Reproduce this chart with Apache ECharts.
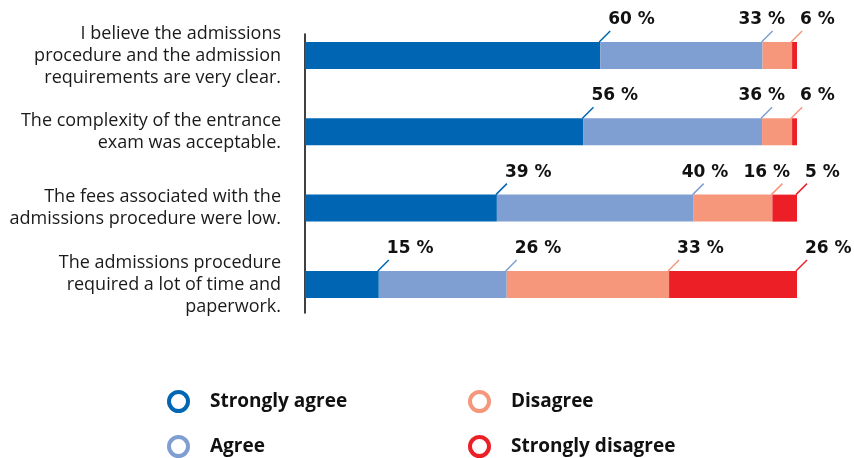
<!DOCTYPE html>
<html>
<head>
<meta charset="utf-8">
<style>
  html, body { margin: 0; padding: 0; background: #fff; }
  #chart { width: 854px; height: 458px; }
</style>
<script src="https://cdn.jsdelivr.net/npm/echarts@6/dist/echarts.min.js"></script>
</head>
<body>
<div id="chart"></div>
<script>
// statements, top to bottom
var categories = [
    'I believe the admissions\nprocedure and the admission\nrequirements are very clear.',
    'The complexity of the entrance\nexam was acceptable.',
    'The fees associated with the\nadmissions procedure were low.',
    'The admissions procedure\nrequired a lot of time and\npaperwork.'
];
var seriesNames = ['Strongly agree', 'Agree', 'Disagree', 'Strongly disagree'];
var stronglyAgree = [60, 56.6, 39, 15];
var agree = [33, 36.3, 40, 26];
var disagree = [6, 6.1, 16, 33];
var stronglyDisagree = [1, 1, 5, 26];

var colors = ['#0066b3', '#7f9fd3', '#f6967a', '#ec1f27'];
var FONT = '"Open Sans", "Noto Sans", sans-serif';
var LABEL_FONT = '"DejaVu Sans", sans-serif';
var LABEL_SIZE = 17;
var BAR_H = 27;
var GAP = 15;

var allValues = [stronglyAgree, agree, disagree, stronglyDisagree];

function labelText(v) {
    return Math.floor(v) + ' %';
}

// label points: end of each segment (cumulative), tiny segments get none
var labelData = [];
allValues.forEach(function (vals, s) {
    vals.forEach(function (v, i) {
        var cum = 0;
        for (var k = 0; k <= s; k++) cum += allValues[k][i];
        if (v >= 2) labelData.push([cum, i, v, s]);
    });
});

var ctx = document.createElement('canvas').getContext('2d');
ctx.font = 'bold ' + LABEL_SIZE + 'px ' + LABEL_FONT;
function textWidth(t) {
    return ctx.measureText(t).width;
}

// place labels of one row: start at the leader end, push left if they run into the next one
function rowLefts(row, api) {
    var items = labelData.filter(function (d) { return d[1] === row; });
    var lefts = {};
    var maxRight = Infinity;
    for (var j = items.length - 1; j >= 0; j--) {
        var d = items[j];
        var x = api.coord([d[0], d[1]])[0];
        var w = textWidth(labelText(d[2]));
        var left = x + 8;
        if (left + w > maxRight) left = maxRight - w;
        lefts[d[3]] = left;
        maxRight = left - GAP;
    }
    return lefts;
}

var myChart = echarts.init(document.getElementById('chart'));

var series = allValues.map(function (vals, s) {
    return {
        name: seriesNames[s],
        type: 'bar',
        stack: 'total',
        barWidth: BAR_H,
        itemStyle: { color: colors[s] },
        data: vals
    };
});

series.push({
    name: 'labels',
    type: 'custom',
    xAxisIndex: 0,
    yAxisIndex: 0,
    clip: false,
    z: 5,
    encode: { x: 0, y: 1 },
    data: labelData,
    renderItem: function (params, api) {
        var row = api.value(1);
        var s = api.value(3);
        var p = api.coord([api.value(0), row]);
        var top = p[1] - BAR_H / 2;
        var left = rowLefts(row, api)[s];
        return {
            type: 'group',
            children: [{
                type: 'line',
                shape: { x1: p[0] - 1, y1: top, x2: p[0] + 10, y2: top - 11 },
                style: { stroke: colors[s], lineWidth: 1.5 }
            }, {
                type: 'text',
                x: left,
                y: top - 14,
                style: {
                    text: labelText(api.value(2)),
                    fill: '#111',
                    fontSize: LABEL_SIZE,
                    fontWeight: 'bold',
                    fontFamily: LABEL_FONT,
                    align: 'left',
                    verticalAlign: 'bottom'
                }
            }]
        };
    }
});

function legendItems(names) {
    return names.map(function (n) {
        var c = colors[seriesNames.indexOf(n)];
        return { name: n, icon: 'circle', itemStyle: { color: '#fff', borderColor: c, borderWidth: 4 } };
    });
}

var legendCommon = {
    orient: 'vertical',
    bottom: 0,
    padding: 0,
    itemWidth: 19,
    itemHeight: 19,
    itemGap: 22,
    selectedMode: false,
    textStyle: {
        color: '#111',
        fontSize: 19,
        fontWeight: 'bold',
        fontFamily: FONT,
        lineHeight: 20,
        padding: [0, 0, 0, 17]
    }
};

var option = {
    animation: false,
    backgroundColor: '#fff',
    legend: [
        Object.assign({}, legendCommon, { left: 167, data: legendItems(['Strongly agree', 'Agree']) }),
        Object.assign({}, legendCommon, { left: 468, data: legendItems(['Disagree', 'Strongly disagree']) })
    ],
    grid: [
        { left: 305, right: 57, top: 17.3, height: 305.3 },
        { left: 305, top: 34, height: 279, width: 10 }   // only for the vertical axis line
    ],
    xAxis: [
        { type: 'value', min: 0, max: 100, show: false },
        { type: 'value', gridIndex: 1, show: false }
    ],
    yAxis: [
        {
            type: 'category',
            inverse: true,
            data: categories,
            axisLine: { show: false },
            axisTick: { show: false },
            axisLabel: {
                margin: 24,
                color: '#1a1a1a',
                fontSize: 18,
                lineHeight: 22,
                fontFamily: FONT,
                align: 'right'
            }
        },
        {
            type: 'value',
            gridIndex: 1,
            axisLine: { show: true, onZero: false, lineStyle: { color: '#000', width: 1.5 } },
            axisTick: { show: false },
            axisLabel: { show: false },
            splitLine: { show: false }
        }
    ],
    series: series
};
myChart.setOption(option);
</script>
</body>
</html>
